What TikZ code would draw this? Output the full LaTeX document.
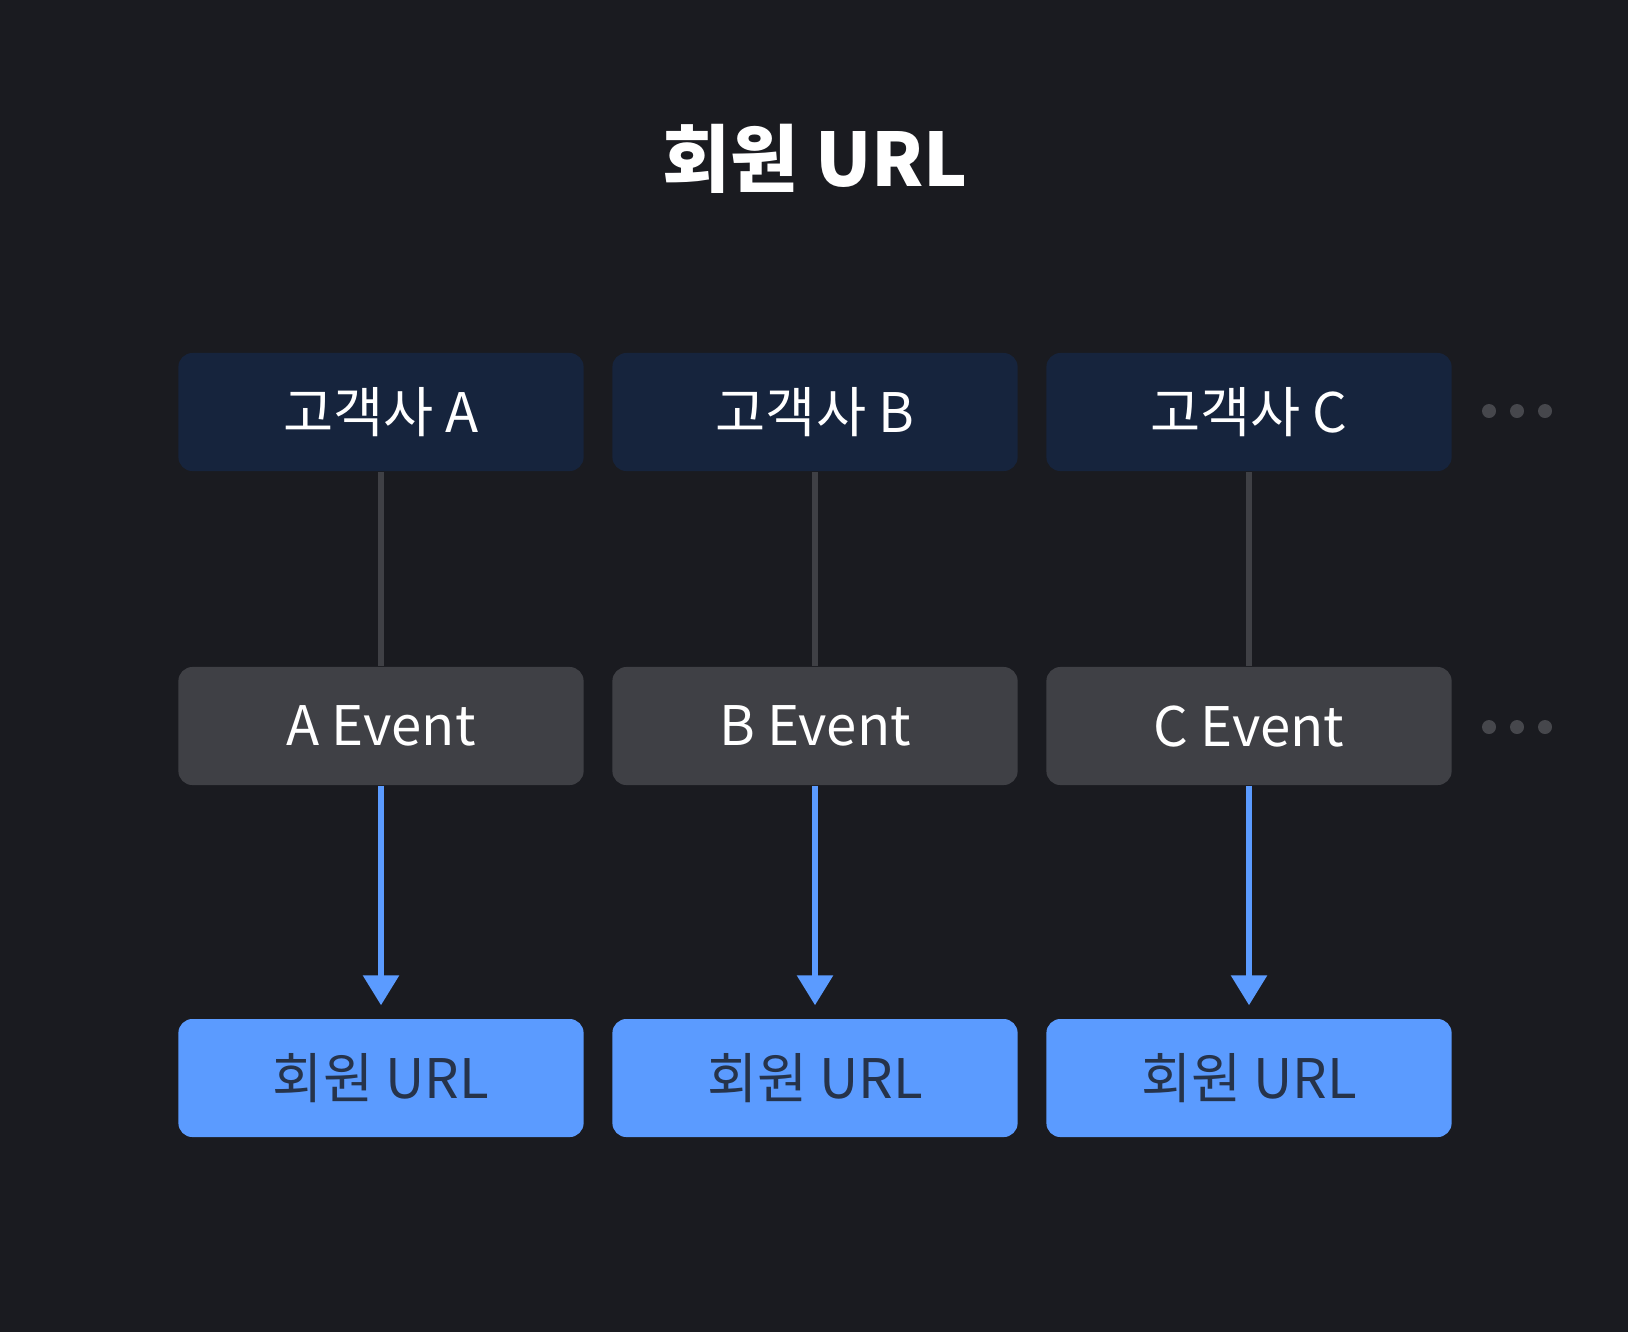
\documentclass[tikz,border=0pt]{standalone}
\usepackage{fontspec}
\setmainfont{Noto Sans CJK KR}
\usetikzlibrary{arrows.meta}
\definecolor{bgdark}{HTML}{1A1B20}
\definecolor{custnavy}{HTML}{16243D}
\definecolor{eventgray}{HTML}{3F4045}
\definecolor{urlblue}{HTML}{5B9BFF}
\definecolor{urltext}{HTML}{26334A}
\definecolor{dotgray}{HTML}{46474C}
\tikzset{
  box/.style={rectangle, rounded corners=4pt, minimum width=4.05cm, minimum height=1.18cm, inner sep=0pt, font=\fontsize{15.5}{18}\selectfont},
  cust/.style={box, fill=custnavy, text=white},
  event/.style={box, fill=eventgray, text=white},
  url/.style={box, fill=urlblue, text=urltext},
  dot/.style={circle, fill=dotgray, minimum size=0.14cm, inner sep=0pt}
}
\begin{document}
\begin{tikzpicture}[x=0.01cm, y=-0.01cm]
  \fill[bgdark] (0,0) rectangle (1628,1332);
  \useasboundingbox (0,0) rectangle (1628,1332);

  % title
  \node[text=white, font=\fontsize{21}{25}\bfseries\selectfont] (title) at (815,159) {회원 URL};

  % three columns
  \foreach \n/\x in {A/381, B/815, C/1249}
  {
    \node[cust] (cust-\n) at (\x,412) {고객사 \n};
    \node[event] (event-\n) at (\x,726) {\n\ Event};
    \node[url] (url-\n) at (\x,1078) {회원 URL};
    \draw[eventgray, line width=0.06cm] (cust-\n) -- (event-\n);
    \draw[urlblue, line width=0.06cm, -{Triangle[length=0.3cm, width=0.35cm]}, shorten >=0.13cm] (event-\n) -- (url-\n);
  }

  % more customers
  \foreach \r/\y in {top/411, mid/727}
  \foreach \x [count=\i] in {1489, 1517, 1545}
  \node[dot] (dot-\r-\i) at (\x,\y) {};
\end{tikzpicture}
\end{document}
